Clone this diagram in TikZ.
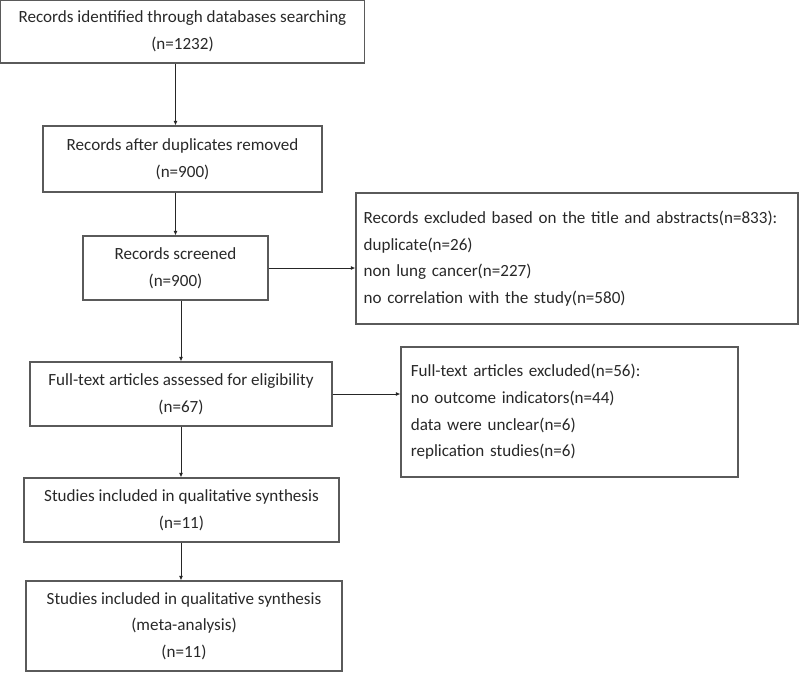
\documentclass[tikz,border=0pt]{standalone}
\usepackage{fontspec}
\setmainfont{Carlito}
\usetikzlibrary{arrows.meta}
\definecolor{boxgray}{RGB}{90,90,90}
\definecolor{txtgray}{RGB}{40,40,40}
\tikzset{
  box/.style={draw=boxgray, line width=0.8pt, inner sep=0pt, align=center, text=txtgray,
    font=\fontsize{12.8}{20}\selectfont},
  exbox/.style={box, align=left, text width=#1},
  arr/.style={draw=black!85, line width=0.7pt, -{Latex[length=3.5pt,width=3pt]}}
}

\begin{document}
\begin{tikzpicture}[x=0.75pt,y=0.75pt,yscale=-1,xscale=1]
\useasboundingbox (0,0) rectangle (800,672);

%Rectangle [b1]
\node[box, minimum width=364*0.75pt, minimum height=63*0.75pt] (b1) at (182.5,31.5) {Records identified through databases searching\\(n=1232)};
%Rectangle [b2]
\node[box, minimum width=279*0.75pt, minimum height=66*0.75pt] (b2) at (182.5,159) {Records after duplicates removed\hspace{8pt}\\(n=900)};
%Rectangle [b3]
\node[box, minimum width=185*0.75pt, minimum height=64*0.75pt] (b3) at (175.5,268) {Records screened\\(n=900)};
%Rectangle [ex1]
\node[exbox=320pt, minimum width=442*0.75pt, minimum height=131*0.75pt] (ex1) at (577,258.5) {Records excluded based on the title and abstracts(n=833):\\duplicate(n=26)\\non lung cancer(n=227)\\no correlation with the study(n=580)};
%Rectangle [b4]
\node[box, minimum width=302*0.75pt, minimum height=64*0.75pt] (b4) at (181,394) {Full-text articles assessed for eligibility\\(n=67)};
%Rectangle [ex2]
\node[exbox=238pt, minimum width=337*0.75pt, minimum height=130*0.75pt] (ex2) at (569.5,412) {Full-text articles excluded(n=56):\\no outcome indicators(n=44)\\data were unclear(n=6)\\replication studies(n=6)};
%Rectangle [b5]
\node[box, minimum width=315*0.75pt, minimum height=64*0.75pt] (b5) at (181.5,510) {Studies included in qualitative synthesis\hspace{6pt}\\(n=11)};
%Rectangle [b6]
\node[box, minimum width=316*0.75pt, minimum height=90*0.75pt] (b6) at (184,626) {Studies included in qualitative synthesis\hspace{6pt}\\(meta-analysis)\\(n=11)};

%Arrows
\draw[arr] (b1.south -| b3) -- (b2.north -| b3);
\draw[arr] (b2.south -| b3) -- (b3.north);
\draw[arr] (b3.east) -- (b3.east -| ex1.west);
\draw[arr] (b3.south -| b4) -- (b4.north);
\draw[arr] (b4.east) -- (b4.east -| ex2.west);
\draw[arr] (b4.south) -- (b4.south |- b5.north);
\draw[arr] (b5.south -| b4) -- (b4 |- b6.north);

\end{tikzpicture}
\end{document}
